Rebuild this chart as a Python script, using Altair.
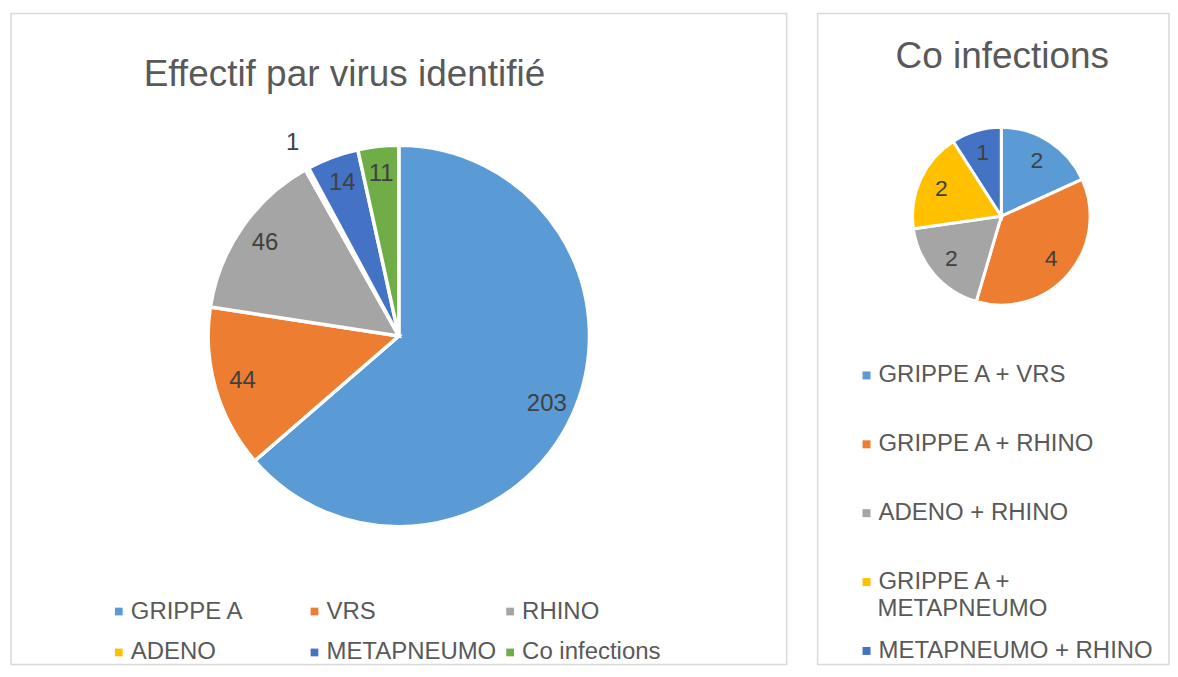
import altair as alt
import pandas as pd

# ---- data ----
virus = ["GRIPPE A", "VRS", "RHINO", "ADENO", "METAPNEUMO", "Co infections"]
effectif = [203, 44, 46, 1, 14, 11]
virus_colors = ["#5B9BD5", "#ED7D31", "#A5A5A5", "#FFC000", "#4472C4", "#70AD47"]

co_types = ["GRIPPE A + VRS", "GRIPPE A + RHINO", "ADENO + RHINO",
            "GRIPPE A + METAPNEUMO", "METAPNEUMO + RHINO"]
co_counts = [2, 4, 2, 2, 1]
co_colors = ["#5B9BD5", "#ED7D31", "#A5A5A5", "#FFC000", "#4472C4"]

title_left = "Effectif par virus identifié"
title_right = "Co infections"
small_slice = "ADENO"
wrapped_label = "GRIPPE A + METAPNEUMO"
wrapped_lines = ["GRIPPE A +", "METAPNEUMO"]

FONT = "Liberation Sans"
TXT = "#595959"
LAB = "#404040"

left_df = pd.DataFrame({"virus": virus, "n": effectif, "ordre": list(range(len(virus)))})
right_df = pd.DataFrame({"type": co_types, "n": co_counts, "ordre": list(range(len(co_types)))})

LW, LH = 777, 652
RW, RH = 352, 652
lcx, lcy = 388.5, 323
rcx, rcy = 184, 203

legend_common = dict(
    title=None, orient="none", symbolType="square", symbolStrokeWidth=0,
    symbolOpacity=1, labelFont=FONT, labelFontSize=24, labelColor=TXT,
    labelLimit=400, padding=0,
)

# ---- left panel ----
base_l = alt.Chart(left_df).transform_calculate(
    lab_in=f"datum.virus == '{small_slice}' ? '' : datum.n",
    lab_out=f"datum.virus == '{small_slice}' ? datum.n : ''",
)
theta = alt.Theta("n:Q", stack=True)
order = alt.Order("ordre:Q")

arcs_l = base_l.mark_arc(outerRadius=191, stroke="white", strokeWidth=3.5).encode(
    theta=theta, order=order,
    x=alt.value(lcx), y=alt.value(lcy),
    color=alt.Color("virus:N", scale=alt.Scale(domain=virus, range=virus_colors),
                    legend=alt.Legend(legendX=96, legendY=587, columns=3,
                                      direction="horizontal",
                                      symbolSize=60, labelOffset=0,
                                      columnPadding=1, rowPadding=17,
                                      gridAlign="all", **legend_common)),
)
lab_in_l = base_l.mark_text(radius=163, font=FONT, fontSize=24, color=LAB).encode(
    theta=theta, order=order, x=alt.value(lcx), y=alt.value(lcy),
    text="lab_in:N",
)
lab_out_l = base_l.mark_text(radius=221, font=FONT, fontSize=24, color=LAB).encode(
    theta=theta, order=order, x=alt.value(lcx), y=alt.value(lcy),
    text="lab_out:N",
)
ttl_l = alt.Chart(pd.DataFrame({"t": [title_left]})).mark_text(
    font=FONT, fontSize=37, color=TXT, baseline="alphabetic"
).encode(text="t:N", x=alt.value(334), y=alt.value(73))

left = alt.layer(arcs_l, lab_in_l, lab_out_l, ttl_l).properties(width=LW, height=LH)

# ---- right panel ----
base_r = alt.Chart(right_df)
arcs_r = base_r.mark_arc(outerRadius=89, stroke="white", strokeWidth=3).encode(
    theta=theta, order=order,
    x=alt.value(rcx), y=alt.value(rcy),
    color=alt.Color("type:N", scale=alt.Scale(domain=co_types, range=co_colors),
                    legend=alt.Legend(legendX=37, legendY=350.5, columns=1,
                                      symbolSize=64, labelOffset=0,
                                      rowPadding=45,
                                      labelExpr=f"datum.label == '{wrapped_label}' ? '{wrapped_lines[0]}' : datum.label",
                                      **legend_common)),
)
lab_r = base_r.mark_text(radius=66, font=FONT, fontSize=23, color=LAB).encode(
    theta=theta, order=order, x=alt.value(rcx), y=alt.value(rcy),
    text="n:N",
)
ttl_r = alt.Chart(pd.DataFrame({"t": [title_right]})).mark_text(
    font=FONT, fontSize=37, color=TXT, baseline="alphabetic"
).encode(text="t:N", x=alt.value(185), y=alt.value(55))
wrap_r = alt.Chart(pd.DataFrame({"t": [wrapped_lines[1]]})).mark_text(
    font=FONT, fontSize=24, color=TXT, align="left", baseline="middle"
).encode(text="t:N", x=alt.value(60), y=alt.value(596))

right = alt.layer(arcs_r, lab_r, ttl_r, wrap_r).properties(width=RW, height=RH)

chart = alt.hconcat(left, right, spacing=29).resolve_scale(
    color="independent", theta="independent"
).properties(
    padding={"left": 2, "top": 4, "right": 0, "bottom": 0}
).configure_view(stroke="#D9D9D9", strokeWidth=1.5)

chart.save("out.html", embed_options={"renderer": "svg", "actions": False})
